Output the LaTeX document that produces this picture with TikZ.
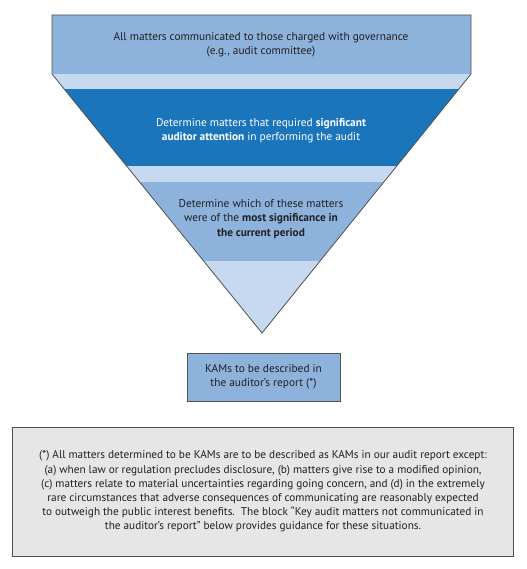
\documentclass[tikz,border=0pt]{standalone}
\usepackage{fontspec}
\setmainfont{PT Sans}
\definecolor{midblue}{RGB}{141,179,221}
\definecolor{darkblue}{RGB}{27,117,187}
\definecolor{lightblue}{RGB}{198,217,240}
\definecolor{boxgray}{RGB}{230,230,230}
\definecolor{txtdark}{RGB}{35,31,32}
\definecolor{edge}{RGB}{80,80,80}
\tikzset{
  txt/.style={align=center, text=txtdark, inner sep=0pt, font=\fontsize{11.4}{14.3}\selectfont},
  notetxt/.style={txt, font=\fontsize{11.3}{14.2}\selectfont},
  outline/.style={draw=edge, line width=0.8bp, line join=miter},
  kambox/.style={draw=edge, fill=midblue, line width=0.9bp, minimum width=153bp, minimum height=48bp, inner sep=0pt},
  notebox/.style={draw=edge, fill=boxgray, line width=1bp}
}
\begin{document}
\begin{tikzpicture}[x=1bp,y=-1bp]
\useasboundingbox (0,0) rectangle (527,569);
\coordinate (TL) at (52,15);
\coordinate (TR) at (471,15);
\coordinate (R) at (471,74);
\coordinate (A) at (262,333);
\coordinate (L) at (52,74);
\begin{scope}
  \clip (TL) -- (TR) -- (R) -- (A) -- (L) -- cycle;
  \fill[midblue] (0,10) rectangle (527,74);
  \fill[lightblue] (0,74) rectangle (527,89);
  \fill[darkblue] (0,89) rectangle (527,166);
  \fill[lightblue] (0,166) rectangle (527,182);
  \fill[midblue] (0,182) rectangle (527,261);
  \fill[lightblue] (0,261) rectangle (527,340);
\end{scope}
\draw[outline] (TL) -- (TR) -- (R) -- (A) -- (L) -- cycle;

\node[txt] (t1) at (261,45) {All matters communicated to those charged with governance\\(e.g., audit committee)};
\node[txt, text=white] (t2) at (261,131) {Determine matters that required \textbf{significant}\\\textbf{auditor attention} in performing the audit};
\node[txt] (t3) at (261,219) {Determine which of these matters\\were of the \textbf{most significance in}\\\textbf{the current period}};

\node[kambox] (kam) at (263.5,377) {};
\node[txt] (kamt) at (kam.center) {KAMs to be described in\\the auditor's report (*)};

\draw[notebox] (12,427) rectangle (513,556);
\node[notetxt] (note) at (263,491.5) {(*) All matters determined to be KAMs are to be described as KAMs in our audit report except:\\(a) when law or regulation precludes disclosure, (b) matters give rise to a modified opinion,\\(c) matters relate to material uncertainties regarding going concern, and (d) in the extremely\\rare circumstances that adverse consequences of communicating are reasonably expected\\to outweigh the public interest benefits.\ \ The block “Key audit matters not communicated in\\the auditor's report” below provides guidance for these situations.};
\end{tikzpicture}
\end{document}
